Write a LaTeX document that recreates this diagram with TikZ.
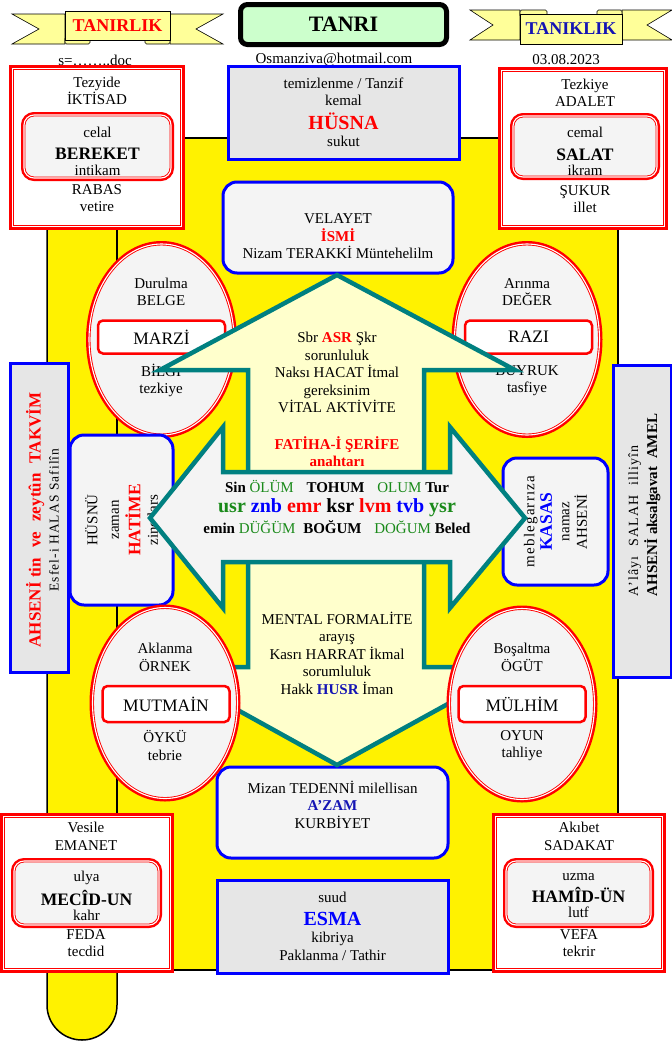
\documentclass[tikz,border=0pt]{standalone}
\usepackage{fontspec}
\setmainfont{Liberation Serif}
\usetikzlibrary{positioning,shapes.geometric}

\definecolor{seritsari}{HTML}{FFFF99}
\definecolor{acikyesil}{HTML}{CCFFCC}
\definecolor{soluksari}{HTML}{FFFFCC}
\definecolor{koyugri}{HTML}{E6E6E6}
\definecolor{acikgri}{HTML}{F4F4F4}
\definecolor{petrol}{HTML}{008080}
\definecolor{yesil}{HTML}{1A8A1A}
\definecolor{lacivert}{HTML}{1414B4}

\newcommand{\baslik}{\bfseries\fontsize{20}{22}\selectfont}
\newcommand{\vurgu}{\bfseries\fontsize{17.5}{20}\selectfont}

\tikzset{
    %Define standard text
    yazi/.style={
           font=\fontsize{15}{17.5}\selectfont,
           align=center,
           inner sep=0pt, outer sep=0pt},
    %Define style for red double boxes
    dis/.style={
           rectangle,
           draw=red, line width=3pt,
           fill=white,
           inner sep=0pt, outer sep=0pt},
    ince/.style={draw=red, line width=0.9pt},
    kirmizi/.style={
           rectangle,
           draw=red, line width=6pt,
           fill=#1,
           postaction={fill=#1, draw=red, double=white,
                       line width=0.9pt, double distance=1.1pt},
           inner sep=0pt, outer sep=0pt},
    kirmizi/.default=white,
    ickutu/.style={
           kirmizi=acikgri,
           rounded corners=10pt},
    elips/.style={
           kirmizi=acikgri, ellipse,
           minimum width=145pt,
           minimum height=191pt},
    etiket/.style={
           yazi,
           rectangle, rounded corners=5pt,
           draw=red, line width=2.5pt,
           fill=white,
           font=\fontsize{17.5}{20}\selectfont,
           minimum width=127pt, minimum height=33pt},
    %Define style for blue boxes
    mavi/.style={
           yazi,
           rectangle,
           draw=blue, line width=3pt,
           fill=koyugri},
    yuvarlak/.style={
           mavi,
           rounded corners=14pt,
           fill=acikgri},
    tanrikutu/.style={
           rectangle, rounded corners=7pt,
           draw=black, line width=5pt,
           fill=acikyesil,
           font=\bfseries\fontsize{22}{24}\selectfont,
           minimum width=206pt, minimum height=40pt},
    seritkutu/.style={
           rectangle,
           draw=black, line width=0.6pt,
           fill=seritsari,
           font=\bfseries\fontsize{18}{20}\selectfont,
           inner sep=0pt, outer sep=0pt,
           minimum width=104pt, minimum height=30pt},
    % Define shape styles
    serit/.style={draw=black, line width=0.6pt, fill=seritsari},
    zemin/.style={draw=black, line width=1.5pt, fill=yellow},
    ok/.style={draw=petrol, line width=4.5pt, line join=miter}
}

\begin{document}
\begin{tikzpicture}[x=1pt, y=-1pt]
    \useasboundingbox (0,0) rectangle (672,1042);
    \draw[zemin, rounded corners=35pt] (47,138) rectangle (117,1040);
    \draw[zemin] (117,138) rectangle (618,970);

    \draw[serit] (12,14) -- (65,14) -- (65,44) -- (12,44) -- (39,29) -- cycle;
    \draw[serit] (170,14) -- (223,14) -- (196,29) -- (223,44) -- (170,44) -- cycle;
    \draw[serit, rounded corners=1.5pt] (65,37) rectangle (90,44);
    \draw[serit, rounded corners=1.5pt] (145,37) rectangle (170,44);
    \node[seritkutu, text=red, minimum width=105pt, minimum height=29pt] (tanirlik) at (117.5,25.5) {TANIRLIK};

    \draw[serit] (470,10) -- (520,10) -- (520,40) -- (470,40) -- (493,25) -- cycle;
    \draw[serit] (622,10) -- (672,10) -- (647,25) -- (672,40) -- (622,40) -- cycle;
    \draw[serit, rounded corners=1.5pt] (520,10) rectangle (547,17);
    \draw[serit, rounded corners=1.5pt] (597,10) rectangle (622,17);
    \node[seritkutu, text=lacivert, minimum width=102pt] (taniklik) at (571,29) {TANIKLIK};

    \node[tanrikutu] (tanri) at (343.5,24.5) {TANRI};
    \node[yazi] (dosya) at (95,60) {s=……..doc};
    \node[yazi] (posta) at (334,60) {Osmanziva@hotmail.com};
    \node[yazi] (tarih) at (566,60) {03.08.2023};

    \node[mavi, minimum width=231pt, minimum height=93pt] (husna) at (343.5,112.5)
       {temizlenme / Tanzif\\kemal\\[6pt]{\baslik\textcolor{red}{HÜSNA}}\\sukut};
    \node[yuvarlak, minimum width=230pt, minimum height=91pt] (velayet) at (338,227.5) {};
    \node[yazi] (ismi) at (338,236.5) {VELAYET\\\textcolor{red}{\textbf{İSMİ}}\\Nizam TERAKKİ Müntehelilm};
    \node[yuvarlak, minimum width=231pt, minimum height=91pt] (azam) at (332.5,812.5) {};
    \node[yazi] (mizan) at (332.5,804.5) {Mizan TEDENNİ milellisan\\\textcolor{lacivert}{\textbf{A’ZAM}}\\KURBİYET};
    \node[mavi, minimum width=231pt, minimum height=93pt] (esma) at (332.5,926.5)
       {suud\\[5pt]{\baslik\textcolor{blue}{ESMA}}\\kibriya\\Paklanma / Tathir};

    \node[dis, minimum width=173pt, minimum height=162pt] (iktisad) at (97,147.5) {};
    \draw[ince] ([shift={(2.9pt,2.9pt)}]iktisad.south west) rectangle ([shift={(-2.9pt,-2.9pt)}]iktisad.north east);
    \node[ickutu, minimum width=147pt, minimum height=63pt] (bereketkutu) at (97.5,146.5) {};
    \node[yazi] (bereket) at (97.5,151) {celal\\[5pt]{\vurgu BEREKET}\\[-2pt]intikam};
    \node[yazi] (tezyide) at (97,91) {Tezyide\\İKTİSAD};
    \node[yazi] (rabas) at (97,198) {RABAS\\vetire};
    \node[dis, minimum width=167pt, minimum height=160pt] (adalet) at (583,148.5) {};
    \draw[ince] ([shift={(2.9pt,2.9pt)}]adalet.south west) rectangle ([shift={(-2.9pt,-2.9pt)}]adalet.north east);
    \node[ickutu, minimum width=144pt, minimum height=61pt] (salatkutu) at (585,146.5) {};
    \node[yazi] (salat) at (585,151.5) {cemal\\[5pt]{\vurgu SALAT}\\[-2pt]ikram};
    \node[yazi] (tezkiye) at (585,93) {Tezkiye\\ADALET};
    \node[yazi] (sukur) at (585,199) {ŞUKUR\\illet};

    \node[elips] (durulma) at (161.5,339.5) {};
    \node[yazi] (belge) at (161,292) {Durulma\\BELGE};
    \node[etiket] (marzi) at (161.5,337) {MARZİ};
    \node[yazi] (bilgi) at (161,380.5) {BİLGİ\\tezkiye};
    \node[elips] (arinma) at (527,339.5) {};
    \node[yazi] (deger) at (527,292) {Arınma\\DEĞER};
    \node[etiket] (razi) at (528.5,337) {RAZI};
    \node[yazi] (buyruk) at (527,380.5) {BUYRUK\\tasfiye};

    \node[yuvarlak, rotate=90, minimum width=170pt, minimum height=103pt] (hatime) at (121.5,520)
       {HÜSNÜ\\[4pt]zaman\\[4pt]{\vurgu\textcolor{red}{HATİME}}\\zinetlars};
    \node[yuvarlak, rotate=90, minimum width=127pt, minimum height=105pt] (kasas) at (555.5,521.5)
       {{\addfontfeature{LetterSpace=8}meblegarrıza}\\{\vurgu\textcolor{blue}{KASAS}}\\namaz\\AHSENİ};

    \draw[ok, fill=soluksari] (337,275) -- (515,370) -- (424,370) -- (424,667) -- (515,667)
       -- (337,765) -- (160,667) -- (248,667) -- (248,370) -- (160,370) -- cycle;
    \node[yazi] (asr) at (337,372.5)
       {Sbr \textcolor{red}{\textbf{ASR}} Şkr\\sorunluluk\\Naksı HACAT İtmal\\gereksinim\\VİTAL AKTİVİTE};
    \node[yazi, text=red, font=\bfseries\fontsize{15}{17.5}\selectfont] (fatiha) at (337,451.5) {FATİHA-İ ŞERİFE\\anahtarı};
    \node[yazi] (mental) at (337,653)
       {MENTAL FORMALİTE\\arayış\\Kasrı HARRAT İkmal\\sorumluluk\\Hakk \textcolor{lacivert}{\textbf{HUSR}} İman};

    \draw[ok, fill=acikgri] (150,518) -- (223,427) -- (223,472) -- (450,472) -- (450,427)
       -- (525,518) -- (450,608) -- (450,562) -- (223,562) -- (223,608) -- cycle;
    \node[yazi] (olum) at (337,487)
       {\textbf{Sin} \textcolor{yesil}{ÖLÜM}\hspace{9pt} \textbf{TOHUM}\hspace{9pt} \textcolor{yesil}{OLUM} \textbf{Tur}};
    \node[yazi, font=\bfseries\fontsize{20}{22}\selectfont] (harfler) at (337,508)
       {\textcolor{yesil}{usr} \textcolor{blue}{znb} \textcolor{red}{emr} ksr \textcolor{red}{lvm} \textcolor{blue}{tvb} \textcolor{yesil}{ysr}};
    \node[yazi] (dugum) at (337,527)
       {\textbf{emin} \textcolor{yesil}{DÜĞÜM}\hspace{4pt} \textbf{BOĞUM}\hspace{9pt} \textcolor{yesil}{DOĞUM} \textbf{Beled}};

    \node[elips] (aklanma) at (165,703) {};
    \node[yazi] (ornek) at (165,657.5) {Aklanma\\ÖRNEK};
    \node[etiket, minimum height=36pt] (mutmain) at (166,704) {MUTMAİN};
    \node[yazi] (oyku) at (165,745.5) {ÖYKÜ\\tebrie};
    \node[elips] (bosaltma) at (522,704) {};
    \node[yazi] (ogut) at (522,657.5) {Boşaltma\\ÖGÜT};
    \node[etiket, minimum height=36pt] (mulhim) at (522,704) {MÜLHİM};
    \node[yazi] (oyun) at (522,745.5) {OYUN\\tahliye};

    \node[mavi, rotate=90, minimum width=309pt, minimum height=58pt] (takvim) at (39,517.5) {};
    \node[yazi, rotate=90, font=\fontsize{13.5}{18}\selectfont] (esfel) at (42.5,520)
       {\textcolor{red}{\bfseries\fontsize{17}{19}\selectfont AHSENİ tin\hspace{6pt} ve\hspace{6pt} zeytûn\hspace{6pt} TAKVİM}\\
        {\addfontfeature{LetterSpace=8}Esfel-i HALAS Safilîn}};
    \node[mavi, rotate=90, minimum width=312pt, minimum height=58pt] (amel) at (642,521) {};
    \node[yazi, rotate=90, align=left, font=\fontsize{14}{19}\selectfont] (illiyin) at (644.5,505)
       {{\addfontfeature{LetterSpace=8}A’lâyı\hspace{5pt} SALAH\hspace{5pt} illiyîn}\\
        {\bfseries\fontsize{15}{19}\selectfont AHSENİ aksalgavat\hspace{4pt} AMEL}};

    \node[dis, minimum width=171pt, minimum height=157pt] (emanet) at (87,893) {};
    \draw[ince] ([shift={(2.9pt,2.9pt)}]emanet.south west) rectangle ([shift={(-2.9pt,-2.9pt)}]emanet.north east);
    \node[ickutu, minimum width=145pt, minimum height=64pt] (mecidkutu) at (86.5,893) {};
    \node[yazi] (mecid) at (86.5,895.5) {ulya\\[5pt]{\vurgu MECÎD-UN}\\[-3pt]kahr};
    \node[yazi] (vesile) at (86,836.5) {Vesile\\EMANET};
    \node[yazi] (feda) at (86,943) {FEDA\\tecdid};
    \node[dis, minimum width=171pt, minimum height=157pt] (sadakat) at (579,893) {};
    \draw[ince] ([shift={(2.9pt,2.9pt)}]sadakat.south west) rectangle ([shift={(-2.9pt,-2.9pt)}]sadakat.north east);
    \node[ickutu, minimum width=145pt, minimum height=64pt] (hamidkutu) at (578.5,893) {};
    \node[yazi] (hamid) at (578.5,895.5) {uzma\\[5pt]{\vurgu HAMÎD-ÜN}\\[-3pt]lutf};
    \node[yazi] (akibet) at (579,836.5) {Akıbet\\SADAKAT};
    \node[yazi] (vefa) at (579,943) {VEFA\\tekrir};
\end{tikzpicture}
\end{document}
